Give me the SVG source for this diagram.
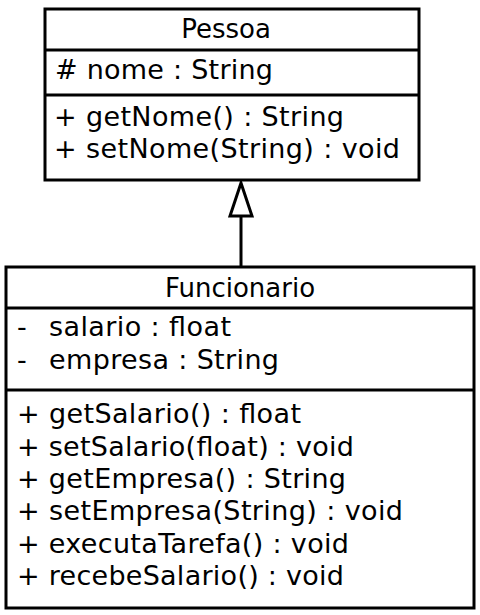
<svg xmlns="http://www.w3.org/2000/svg" width="480" height="615" viewBox="0 0 480 615">
<style>
.box{fill:#fff;stroke:#000;stroke-width:3}
.div{stroke:#000;stroke-width:3}
text{font-family:"DejaVu Sans",Verdana,sans-serif;font-size:27px;fill:#000}
.c{text-anchor:middle;font-size:26px}
</style>
<rect width="480" height="615" fill="#fff"/>
<g id="connectors">
<line x1="241" y1="216" x2="241" y2="267" stroke="#000" stroke-width="3"/>
<polygon points="241,183 230,216 252,216" fill="#fff" stroke="#000" stroke-width="3" stroke-linejoin="miter"/>
</g>
<g id="Pessoa">
<rect class="box" x="45" y="9" width="374" height="171"/>
<line class="div" x1="45" y1="50" x2="419" y2="50"/>
<line class="div" x1="45" y1="95" x2="419" y2="95"/>
<text class="c" x="226" y="38">Pessoa</text>
<text x="55" y="79" textLength="218"># nome : String</text>
<text x="54" y="126" textLength="290">+ getNome() : String</text>
<text x="54" y="158" textLength="346">+ setNome(String) : void</text>
</g>
<g id="Funcionario">
<rect class="box" x="6" y="267" width="468" height="341"/>
<line class="div" x1="6" y1="308" x2="474" y2="308"/>
<line class="div" x1="6" y1="390" x2="474" y2="390"/>
<text class="c" x="240" y="297">Funcionario</text>
<text x="17" y="336">-</text>
<text x="49" y="336" textLength="182">salario : float</text>
<text x="17" y="369">-</text>
<text x="49" y="369" textLength="230">empresa : String</text>
<text x="17" y="423" textLength="284">+ getSalario() : float</text>
<text x="17" y="456" textLength="337">+ setSalario(float) : void</text>
<text x="17" y="488" textLength="329">+ getEmpresa() : String</text>
<text x="17" y="520" textLength="386">+ setEmpresa(String) : void</text>
<text x="17" y="553" textLength="332">+ executaTarefa() : void</text>
<text x="17" y="585" textLength="327">+ recebeSalario() : void</text>
</g>
</svg>
